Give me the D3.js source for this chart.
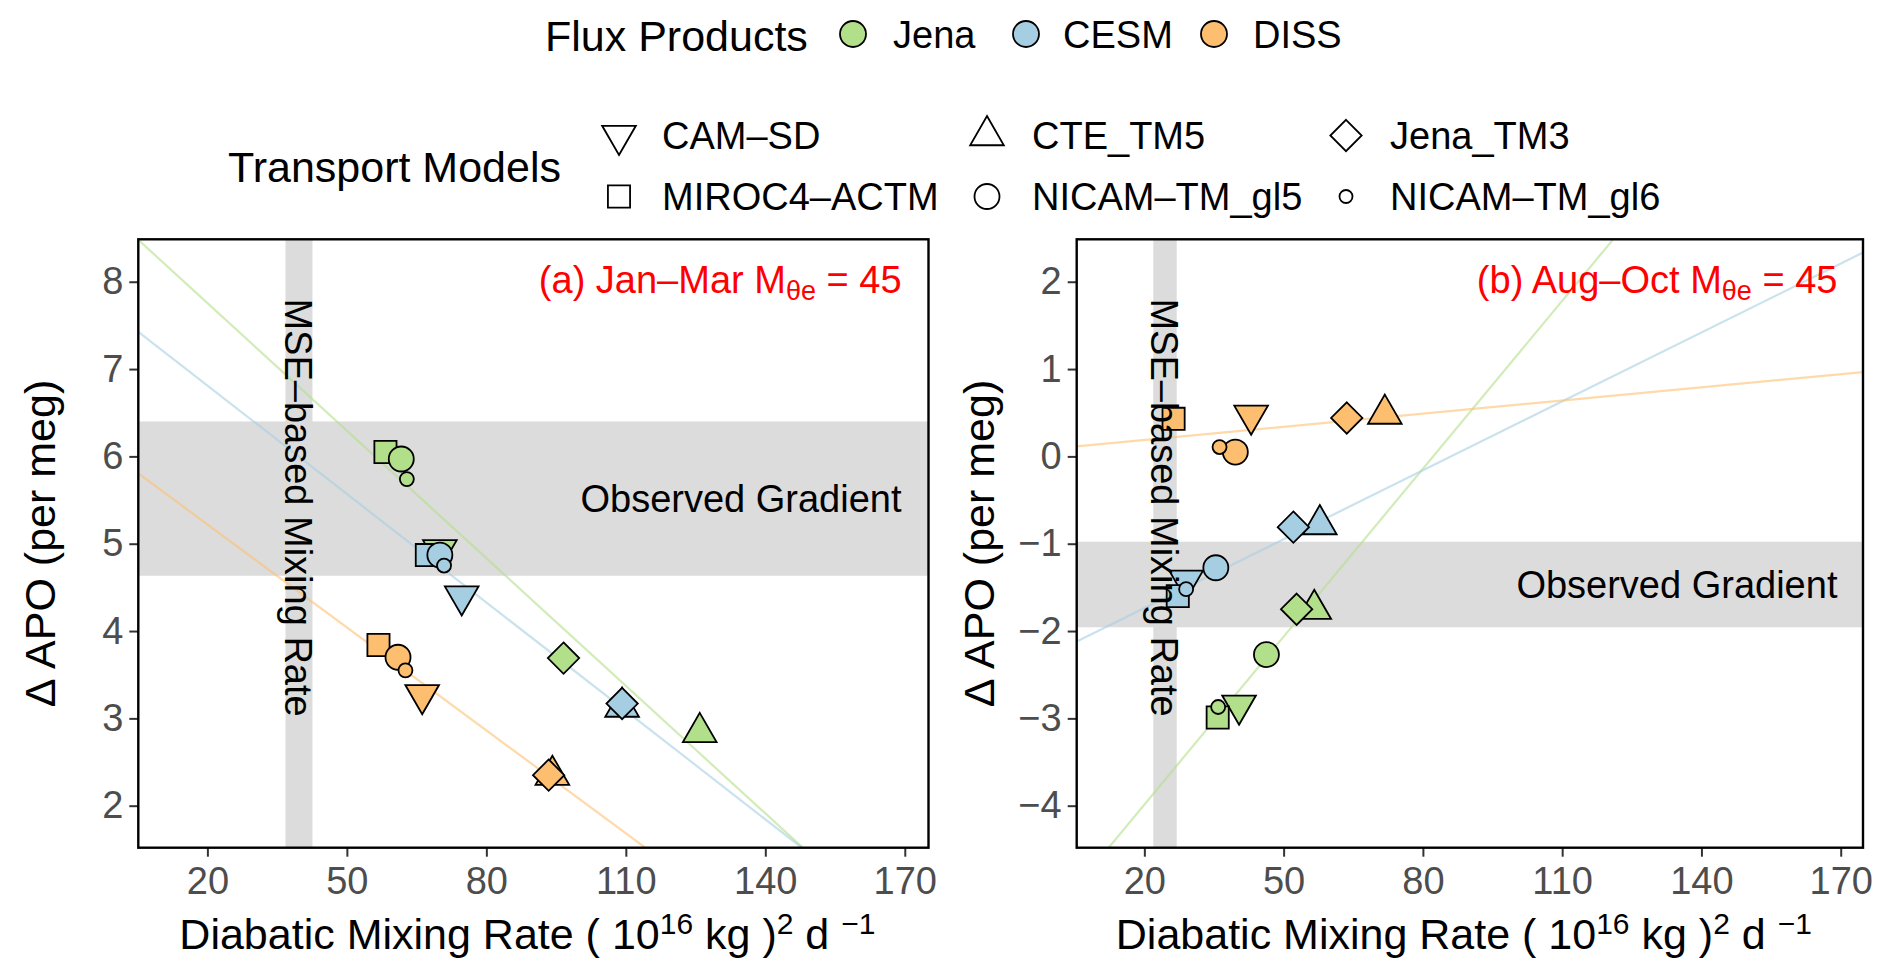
<!DOCTYPE html>
<html>
<head>
<meta charset="utf-8">
<script src="https://cdn.jsdelivr.net/npm/d3@7"></script>
<style>
  body { margin: 0; background: #fff; }
  text { font-family: "Liberation Sans", Arial, Helvetica, sans-serif; }
</style>
</head>
<body>
<script>
// flux products and transport models
var fluxProducts = ["Jena", "CESM", "DISS"];
var fluxColors = ["#b2df8a", "#a6cee3", "#fdbf6f"];
var transportModels = ["CAM–SD", "CTE_TM5", "Jena_TM3", "MIROC4–ACTM", "NICAM–TM_gl5", "NICAM–TM_gl6"];
var modelShapes = ["triDown", "triUp", "diamond", "square", "circle", "circle"];

// ticks
var xTicks = [20, 50, 80, 110, 140, 170];
var yTicksA = [2, 3, 4, 5, 6, 7, 8];
var yTicksB = [-4, -3, -2, -1, 0, 1, 2];

// panel (a) Jan-Mar : mixing rate (x) and delta APO (y), one row per flux product, columns follow transportModels
var xJanMar = [
  [70.0, 125.9, 96.6, 58.3, 61.7, 62.9],
  [74.7, 109.2, 109.2, 67.2, 70.0, 70.9],
  [66.2, 94.2, 93.4, 56.8, 61.0, 62.6]
];
var yJanMar = [
  [4.93, 2.84, 3.69, 6.05, 5.97, 5.74],
  [4.40, 3.13, 3.17, 4.87, 4.87, 4.75],
  [3.27, 2.35, 2.35, 3.84, 3.70, 3.55]
];
// regression lines per flux product: intercept, slope
var interceptJanMar = [8.73, 7.64, 6.007];
var slopeJanMar = [-0.0487, -0.0414, -0.0393];

// panel (b) Aug-Oct
var xAugOct = [
  [40.4, 56.6, 52.8, 35.8, 46.3, 35.9],
  [29.0, 57.8, 52.1, 27.2, 35.4, 29.0],
  [43.0, 71.8, 63.6, 26.3, 39.6, 36.2]
];
var yAugOct = [
  [-2.85, -1.75, -1.75, -2.99, -2.27, -2.87],
  [-1.42, -0.78, -0.81, -1.60, -1.275, -1.52],
  [0.47, 0.485, 0.44, 0.43, 0.05, 0.107]
];
var interceptAugOct = [-5.27, -2.263, 0.088];
var slopeAugOct = [0.0641, 0.0263, 0.00502];

// shaded ranges: MSE-based mixing rate (x) and observed gradient (y)
var mseRange = [[36.8, 42.6], [21.93, 26.97]];
var obsRange = [[4.633, 6.40], [-1.957, -0.977]];
var axisDomainsX = [[5.14, 175.1], [5.43, 174.8]];
var axisDomainsY = [[1.519, 8.486], [-4.481, 2.486]];
var panelSeason = ["(a) Jan–Mar ", "(b) Aug–Oct "];

var w = 1892;
var h = 979;
var panelTop = 239.3, panelBottom = 847.7;
var panelX = [[138.3, 928.5], [1076.7, 1863]];
var baseSize = 12.5, smallSize = 7;

var svg = d3.select("body").append("svg")
  .attr("width", w)
  .attr("height", h);

// R-like point shapes
function shapePath(shape, r) {
  if (shape == "circle") {
    return "M" + r + ",0A" + r + "," + r + " 0 1,1 " + (-r) + ",0A" + r + "," + r + " 0 1,1 " + r + ",0Z";
  }
  if (shape == "square") {
    var s = 0.886 * r;
    return "M" + (-s) + "," + (-s) + "H" + s + "V" + s + "H" + (-s) + "Z";
  }
  if (shape == "diamond") {
    var d = 1.2533 * r;
    return "M0," + (-d) + "L" + d + ",0L0," + d + "L" + (-d) + ",0Z";
  }
  var a = 1.555 * r, b = 0.778 * r, c = 1.347 * r;
  if (shape == "triUp") {
    return "M0," + (-a) + "L" + c + "," + b + "L" + (-c) + "," + b + "Z";
  }
  return "M0," + a + "L" + c + "," + (-b) + "L" + (-c) + "," + (-b) + "Z";
}

function modelSize(i) {
  return i == 5 ? smallSize : baseSize;
}

function drawPanel(p, xs, ys, intercepts, slopes, yTicks) {
  var x = d3.scaleLinear().domain(axisDomainsX[p]).range(panelX[p]);
  var y = d3.scaleLinear().domain(axisDomainsY[p]).range([panelBottom, panelTop]);
  var g = svg.append("g");

  g.append("clipPath").attr("id", "clip" + p)
    .append("rect")
    .attr("x", x.range()[0]).attr("y", panelTop)
    .attr("width", x.range()[1] - x.range()[0]).attr("height", panelBottom - panelTop);

  // shaded bands
  g.append("rect")
    .attr("x", x.range()[0])
    .attr("width", x.range()[1] - x.range()[0])
    .attr("y", y(obsRange[p][1]))
    .attr("height", y(obsRange[p][0]) - y(obsRange[p][1]))
    .attr("fill", "#dcdcdc");
  g.append("rect")
    .attr("x", x(mseRange[p][0]))
    .attr("width", x(mseRange[p][1]) - x(mseRange[p][0]))
    .attr("y", panelTop)
    .attr("height", panelBottom - panelTop)
    .attr("fill", "#dcdcdc");

  // regression lines
  var xd = axisDomainsX[p];
  g.append("g").attr("clip-path", "url(#clip" + p + ")")
    .selectAll("line")
    .data(fluxProducts)
    .enter().append("line")
    .attr("x1", x(xd[0]))
    .attr("x2", x(xd[1]))
    .attr("y1", function(d, i) { return y(intercepts[i] + slopes[i] * xd[0]); })
    .attr("y2", function(d, i) { return y(intercepts[i] + slopes[i] * xd[1]); })
    .attr("stroke", function(d, i) { return fluxColors[i]; })
    .attr("stroke-opacity", 0.6)
    .attr("stroke-width", 2.2);

  // points
  var pts = [];
  fluxProducts.forEach(function(f, i) {
    transportModels.forEach(function(m, j) {
      pts.push({ f: i, m: j, x: xs[i][j], y: ys[i][j] });
    });
  });
  g.selectAll(".pt")
    .data(pts)
    .enter().append("path")
    .attr("class", "pt")
    .attr("transform", function(d) { return "translate(" + x(d.x) + "," + y(d.y) + ")"; })
    .attr("d", function(d) { return shapePath(modelShapes[d.m], modelSize(d.m)); })
    .attr("fill", function(d) { return fluxColors[d.f]; })
    .attr("stroke", "#000")
    .attr("stroke-width", 1.8);

  // annotations
  var bandMid = (x(mseRange[p][0]) + x(mseRange[p][1])) / 2;
  var textMid = p == 0 ? y(5.414) : y(-0.586);
  g.append("text")
    .attr("transform", "translate(" + bandMid + "," + textMid + ") rotate(90)")
    .attr("text-anchor", "middle")
    .attr("dy", "0.36em")
    .attr("font-size", 38)
    .text("MSE–based Mixing Rate");

  g.append("text")
    .attr("x", x(169.3))
    .attr("y", y((obsRange[p][0] + obsRange[p][1]) / 2))
    .attr("dy", "0.36em")
    .attr("text-anchor", "end")
    .attr("font-size", 38)
    .text("Observed Gradient");

  var lab = g.append("text")
    .attr("x", x(169.3))
    .attr("y", 292.5)
    .attr("text-anchor", "end")
    .attr("font-size", 38)
    .attr("fill", "#ff0000");
  lab.append("tspan").text(panelSeason[p] + "M");
  lab.append("tspan").attr("font-size", 27).attr("dy", 7).text("θe");
  lab.append("tspan").attr("dy", -7).text(" = 45");

  // axes
  var xAxis = g.append("g")
    .attr("transform", "translate(0," + panelBottom + ")")
    .call(d3.axisBottom(x).tickValues(xTicks).tickFormat(d3.format("d")).tickSize(9).tickPadding(10));
  var yAxis = g.append("g")
    .attr("transform", "translate(" + x.range()[0] + ",0)")
    .call(d3.axisLeft(y).tickValues(yTicks).tickFormat(d3.format("d")).tickSize(9).tickPadding(6));
  [xAxis, yAxis].forEach(function(ax) {
    ax.select(".domain").remove();
    ax.selectAll("line").attr("stroke", "#333").attr("stroke-width", 2);
    ax.selectAll("text")
      .attr("font-size", 38)
      .attr("fill", "#4d4d4d")
      .style("font-family", "'Liberation Sans', Arial, sans-serif");
  });

  // panel border
  g.append("rect")
    .attr("x", x.range()[0]).attr("y", panelTop)
    .attr("width", x.range()[1] - x.range()[0]).attr("height", panelBottom - panelTop)
    .attr("fill", "none")
    .attr("stroke", "#000")
    .attr("stroke-width", 2.4);

  // axis titles
  var xt = g.append("text")
    .attr("x", (x.range()[0] + x.range()[1]) / 2 - 6)
    .attr("y", 949)
    .attr("text-anchor", "middle")
    .attr("font-size", 43);
  xt.append("tspan").text("Diabatic Mixing Rate ( 10");
  xt.append("tspan").attr("font-size", 30).attr("dy", -15).text("16");
  xt.append("tspan").attr("dy", 15).text(" kg )");
  xt.append("tspan").attr("font-size", 30).attr("dy", -15).text("2");
  xt.append("tspan").attr("dy", 15).text(" d ");
  xt.append("tspan").attr("font-size", 30).attr("dy", -15).text("−1");

  g.append("text")
    .attr("transform", "translate(" + (x.range()[0] - 83) + "," + ((panelTop + panelBottom) / 2) + ") rotate(-90)")
    .attr("text-anchor", "middle")
    .attr("font-size", 43)
    .text("Δ APO (per meg)");
}

drawPanel(0, xJanMar, yJanMar, interceptJanMar, slopeJanMar, yTicksA);
drawPanel(1, xAugOct, yAugOct, interceptAugOct, slopeAugOct, yTicksB);

// legend: flux products
var fluxX = [853, 1026, 1214];
var fluxLabelX = [893, 1063, 1253];
svg.append("text")
  .attr("x", 545).attr("y", 51)
  .attr("font-size", 43)
  .text("Flux Products");
var fl = svg.selectAll(".fluxLeg")
  .data(fluxProducts)
  .enter().append("g")
  .attr("class", "fluxLeg");
fl.append("circle")
  .attr("cx", function(d, i) { return fluxX[i]; })
  .attr("cy", 34)
  .attr("r", 13)
  .attr("fill", function(d, i) { return fluxColors[i]; })
  .attr("stroke", "#000")
  .attr("stroke-width", 1.8);
fl.append("text")
  .attr("x", function(d, i) { return fluxLabelX[i]; })
  .attr("y", 48)
  .attr("font-size", 38)
  .text(function(d) { return d; });

// legend: transport models
var colX = [619, 987, 1346];
var colLabelX = [662, 1032, 1390];
var rowY = [135.5, 196.5];
svg.append("text")
  .attr("x", 228).attr("y", 182)
  .attr("font-size", 43)
  .text("Transport Models");
var tl = svg.selectAll(".tmLeg")
  .data(transportModels)
  .enter().append("g")
  .attr("class", "tmLeg");
tl.append("path")
  .attr("transform", function(d, i) { return "translate(" + colX[i % 3] + "," + rowY[Math.floor(i / 3)] + ")"; })
  .attr("d", function(d, i) { return shapePath(modelShapes[i], i == 5 ? 6.5 : baseSize); })
  .attr("fill", "#fff")
  .attr("stroke", "#000")
  .attr("stroke-width", 1.8);
tl.append("text")
  .attr("x", function(d, i) { return colLabelX[i % 3]; })
  .attr("y", function(d, i) { return rowY[Math.floor(i / 3)] + 13.5; })
  .attr("font-size", 38)
  .text(function(d) { return d; });
</script>
